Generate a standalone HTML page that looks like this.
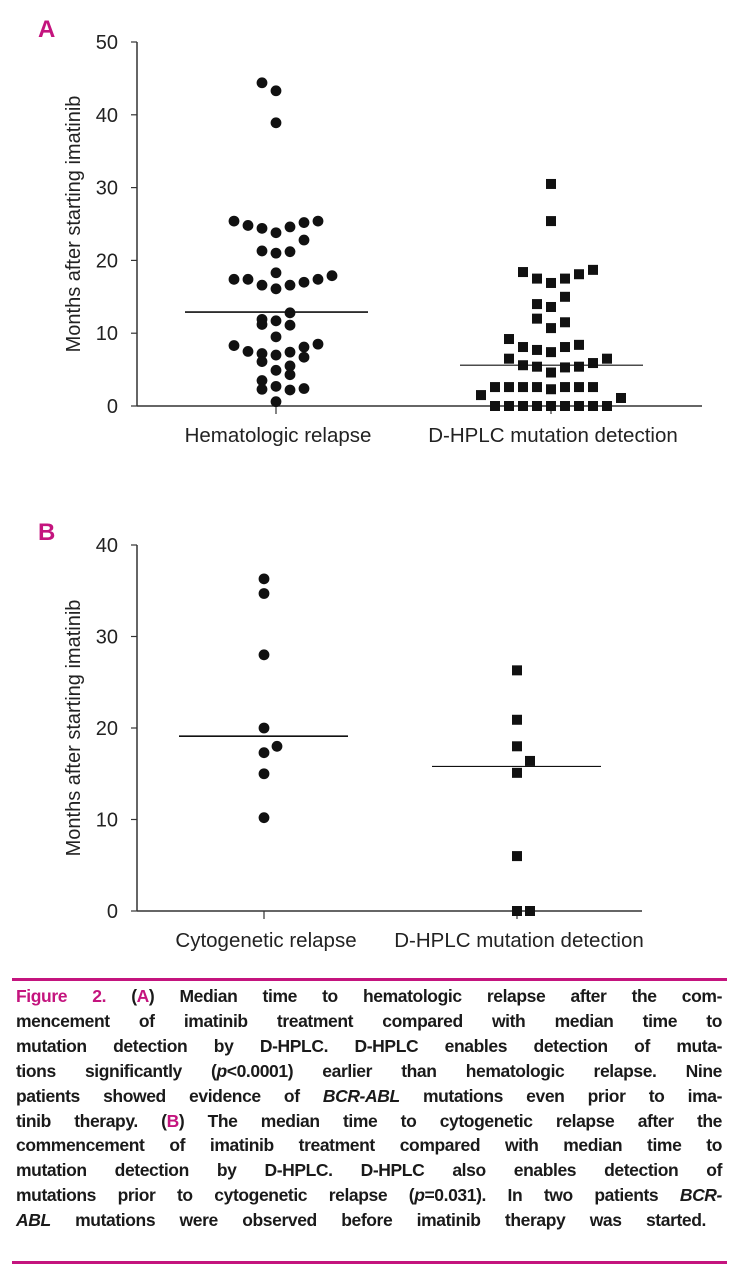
<!DOCTYPE html>
<html><head><meta charset="utf-8"><style>
body{margin:0;background:#fff;width:747px;height:1280px;position:relative;overflow:hidden;font-family:"Liberation Sans",sans-serif}
svg{position:absolute;left:0;top:0}
#cap{position:absolute;left:16px;top:984px;width:706px;font-size:17.5px;line-height:24.9px;color:#1a1a1a;font-weight:bold}
#cap div{text-align:justify;text-align-last:justify;white-space:nowrap;letter-spacing:-0.4px}
#cap div.last{width:690px}
.m{color:#c4147e}
.rule{position:absolute;left:12px;width:715px;height:3px;background:#c4147e}
</style></head><body>
<svg id="chart" width="747" height="980"></svg>
<div class="rule" style="top:978px"></div>
<div id="cap">
<div><span class="m">Figure 2.</span> (<span class="m">A</span>) Median time to hematologic relapse after the com-</div>
<div>mencement of imatinib treatment compared with median time to</div>
<div>mutation detection by D-HPLC. D-HPLC enables detection of muta-</div>
<div>tions significantly (<i>p</i>&lt;0.0001) earlier than hematologic relapse. Nine</div>
<div>patients showed evidence of <i>BCR-ABL</i> mutations even prior to ima-</div>
<div>tinib therapy. (<span class="m">B</span>) The median time to cytogenetic relapse after the</div>
<div>commencement of imatinib treatment compared with median time to</div>
<div>mutation detection by D-HPLC. D-HPLC also enables detection of</div>
<div>mutations prior to cytogenetic relapse (<i>p</i>=0.031). In two patients <i>BCR-</i></div>
<div class="last"><i>ABL</i> mutations were observed before imatinib therapy was started.</div>
</div>
<div class="rule" style="top:1261px"></div>
<script>
// Panel A data
const aCategories=["Hematologic relapse","D-HPLC mutation detection"];
const aTicks=[0,10,20,30,40,50];
const aHemValues=[44.4,43.3,38.9,25.4,24.8,24.4,23.8,24.6,25.2,25.4,22.8,21.3,21.0,21.2,18.3,17.4,17.4,16.6,16.1,16.6,17.0,17.4,17.9,12.8,11.9,11.2,11.7,11.1,9.5,8.3,7.5,7.2,6.1,7.0,7.4,8.1,8.5,6.7,4.9,5.5,4.3,3.5,2.3,2.7,2.2,2.4,0.6];
const aHemCols=[-1,0,0,-3,-2,-1,0,1,2,3,2,-1,0,1,0,-3,-2,-1,0,1,2,3,4,1,-1,-1,0,1,0,-3,-2,-1,-1,0,1,2,3,2,0,1,1,-1,-1,0,1,2,0];
const aMutValues=[30.5,25.4,18.4,17.5,16.9,17.5,18.1,18.7,15.0,14.0,13.6,12.0,10.7,11.5,9.2,8.1,7.7,7.4,8.1,8.4,6.5,6.5,5.6,5.4,4.6,5.3,5.4,5.9,2.6,2.6,2.6,2.6,2.3,2.6,2.6,2.6,1.5,1.1,0,0,0,0,0,0,0,0,0];
const aMutCols=[0,0,-2,-1,0,1,2,3,1,-1,0,-1,0,1,-3,-2,-1,0,1,2,-3,4,-2,-1,0,1,2,3,-4,-3,-2,-1,0,1,2,3,-5,5,-4,-3,-2,-1,0,1,2,3,4];
const aMedians=[12.9,5.6];
// Panel B data
const bCategories=["Cytogenetic relapse","D-HPLC mutation detection"];
const bTicks=[0,10,20,30,40];
const bCytoValues=[36.3,34.7,28.0,20.0,18.0,17.3,15.0,10.2];
const bCytoCols=[0,0,0,0,1,0,0,0];
const bMutValues=[26.3,20.9,18.0,16.4,15.1,6.0,0,0];
const bMutCols=[0,0,0,1,0,0,0,1];
const bMedians=[19.1,15.8];

const svg=document.getElementById('chart');
const NS="http://www.w3.org/2000/svg";
function mk(tag,attrs,name){const e=document.createElementNS(NS,tag);for(const k in attrs)e.setAttribute(k,attrs[k]);


svg.appendChild(e);return e;}
function txt(x,y,s,size,anchor,name,extra){const t=mk('text',Object.assign({x:x,y:y,'font-size':size,'text-anchor':anchor,fill:'#222','font-family':'"Liberation Sans",sans-serif'},extra||{}),name);t.textContent=s;return t;}

function panel(cfg){
  const y=v=>cfg.y0-(v/cfg.max)*(cfg.y0-cfg.yTop);
  mk('line',{x1:cfg.ax,y1:cfg.yTop,x2:cfg.ax,y2:cfg.y0,stroke:'#333','stroke-width':1.5},cfg.p+'-y-axis');
  mk('line',{x1:cfg.ax,y1:cfg.y0,x2:cfg.xEnd,y2:cfg.y0,stroke:'#333','stroke-width':1.5},cfg.p+'-x-axis');
  cfg.ticks.forEach(t=>{
    mk('line',{x1:cfg.ax-6,y1:y(t),x2:cfg.ax,y2:y(t),stroke:'#333','stroke-width':1.2},cfg.p+'-y-tick');
    txt(cfg.ax-19,y(t)+7,String(t),20,'end',cfg.p+'-y-tick-label');
  });
  txt(0,0,'Months after starting imatinib',20,'middle',cfg.p+'-y-axis-title',{transform:`translate(80,${(cfg.y0+cfg.yTop)/2}) rotate(-90)`});
  cfg.cats.forEach((c,i)=>{
    mk('line',{x1:cfg.cx[i],y1:cfg.y0,x2:cfg.cx[i],y2:cfg.y0+8,stroke:'#333','stroke-width':1.2},cfg.p+'-x-tick');
    txt(cfg.cx[i]+2,cfg.y0+36,c,20.5,'middle',cfg.p+'-x-category-label');
  });
  cfg.s1.forEach((v,i)=>{mk('circle',{cx:cfg.cx[0]+cfg.c1[i]*cfg.sp1,cy:y(v),r:5.4,fill:'#111'},cfg.p+'-point-circle');});
  cfg.s2.forEach((v,i)=>{mk('rect',{x:cfg.cx[1]+cfg.c2[i]*cfg.sp2-5,y:y(v)-5,width:10,height:10,fill:'#111'},cfg.p+'-point-square');});
  cfg.med.forEach((m,i)=>{mk('line',{x1:cfg.mx[i][0],y1:y(m),x2:cfg.mx[i][1],y2:y(m),stroke:'#111','stroke-width':i==0?1.6:1.1},cfg.p+'-median-line');});
  txt(38,cfg.yTop-5,cfg.letter,24,'start',cfg.p+'-panel-label',{fill:'#c4147e','font-weight':'bold'});
}
panel({p:'a',letter:'A',ax:137,yTop:42,y0:406,max:50,xEnd:702,ticks:aTicks,cats:aCategories,cx:[276,551],
  s1:aHemValues,c1:aHemCols,s2:aMutValues,c2:aMutCols,sp1:14,sp2:14,med:aMedians,mx:[[185,368],[460,643]]});
panel({p:'b',letter:'B',ax:137,yTop:545,y0:911,max:40,xEnd:642,ticks:bTicks,cats:bCategories,cx:[264,517],
  s1:bCytoValues,c1:bCytoCols,s2:bMutValues,c2:bMutCols,sp1:13,sp2:13,med:bMedians,mx:[[179,348],[432,601]]});
</script>
</body></html>
